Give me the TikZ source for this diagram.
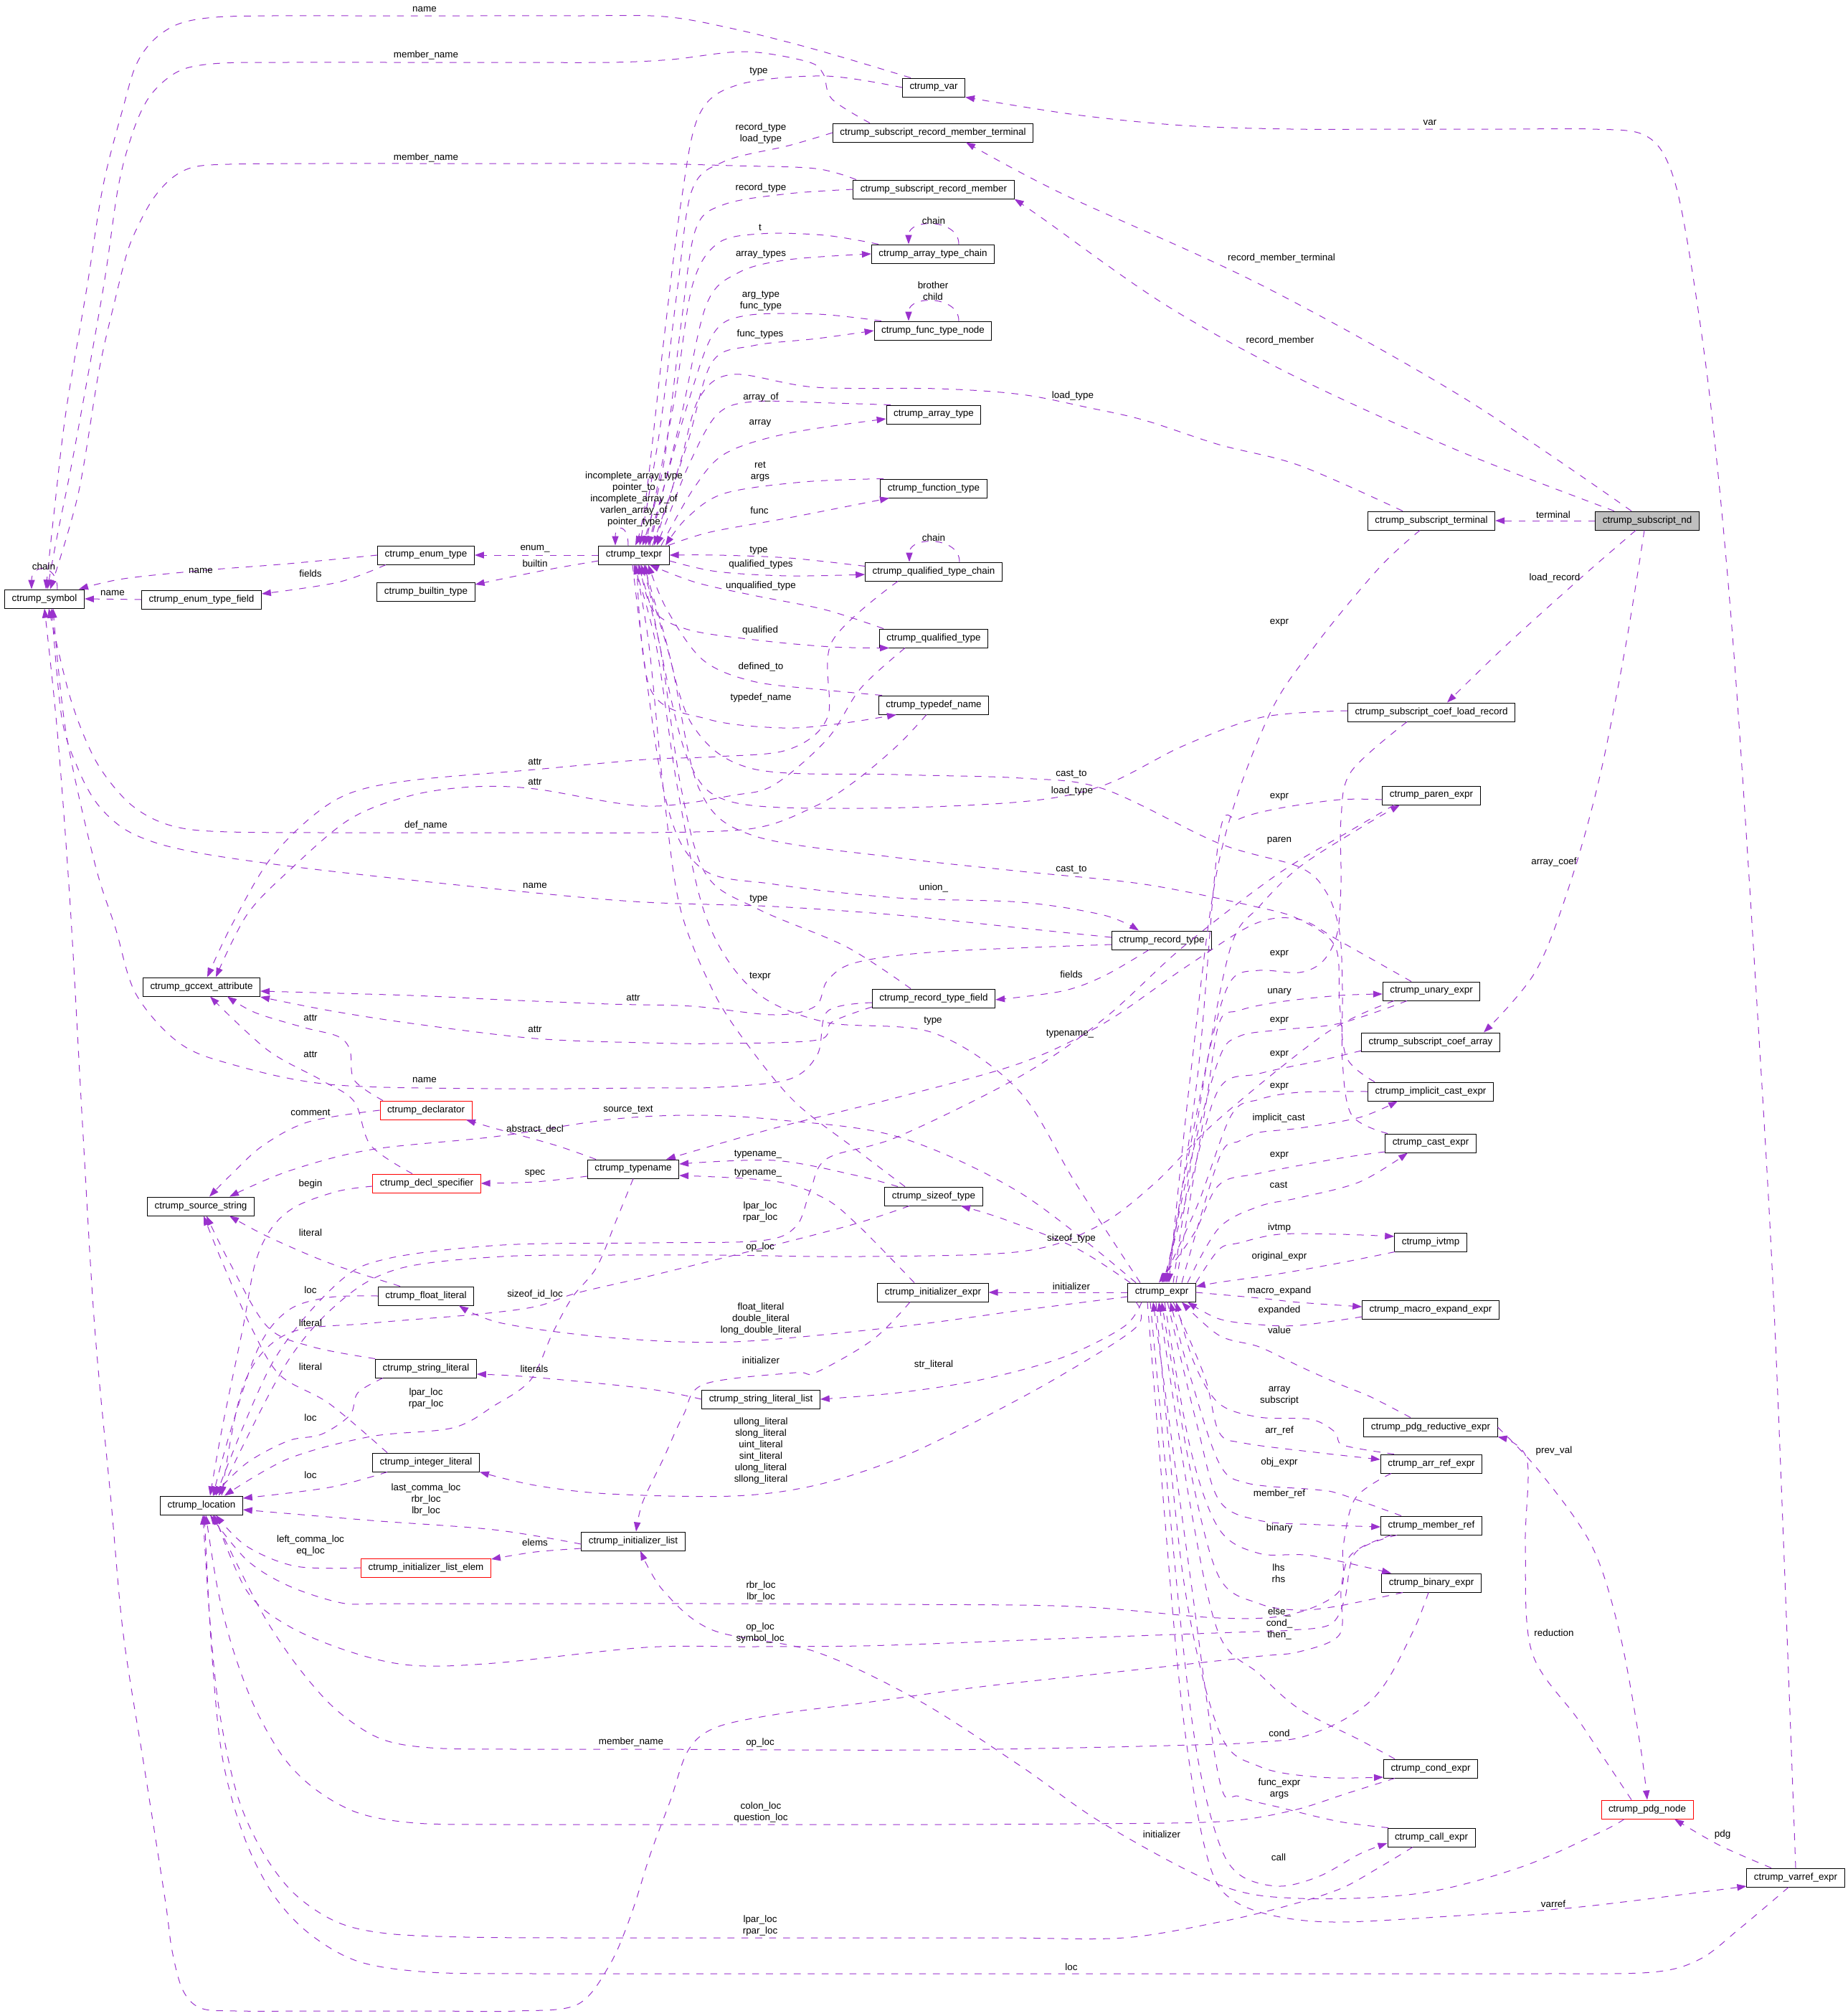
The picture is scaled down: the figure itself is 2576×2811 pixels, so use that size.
\documentclass[tikz,border=0pt]{standalone}
\usepackage{fontspec}
\setmainfont{Liberation Sans}
\usetikzlibrary{arrows.meta}
\definecolor{edgecol}{HTML}{9A32CD}
\definecolor{ndgray}{HTML}{BFBFBF}
\newcommand\dfs{\fontsize{6.7}{8}\selectfont}
\newcommand\edg[1]{\draw[e] plot[smooth,tension=0.55] coordinates {#1};}
\begin{document}
\begin{tikzpicture}[x=0.5pt,y=-0.5pt,
  cls/.style={draw=black,fill=white,line width=0.5pt,minimum height=13pt,inner xsep=5pt,inner ysep=0pt,font=\dfs},
  redcls/.style={cls,draw=red},
  graycls/.style={cls,fill=ndgray},
  e/.style={draw=edgecol,line width=0.5pt,dash pattern=on 4.8pt off 4.9pt,-{Triangle[length=6.5pt,width=4.6pt]},fill=none},
  lbl/.style={font=\dfs,inner sep=0pt,align=center}]
\fill[white] (0,0) rectangle (2576,2811);
\useasboundingbox (0,0) rectangle (2576,2811);

% ---------------- nodes
\node[cls] (sym) at (62,835) {ctrump\_symbol};
\node[cls] (etf) at (281,836) {ctrump\_enum\_type\_field};
\node[cls] (enm) at (594,774) {ctrump\_enum\_type};
\node[cls] (bt) at (594,825) {ctrump\_builtin\_type};
\node[cls] (tx) at (884,774) {ctrump\_texpr};
\node[cls] (var) at (1302,122) {ctrump\_var};
\node[cls] (srmt) at (1301,185) {ctrump\_subscript\_record\_member\_terminal};
\node[cls] (srm) at (1302,264) {ctrump\_subscript\_record\_member};
\node[cls] (atc) at (1301,354) {ctrump\_array\_type\_chain};
\node[cls] (ftn) at (1301,461) {ctrump\_func\_type\_node};
\node[cls] (arrt) at (1302,578) {ctrump\_array\_type};
\node[cls] (ft) at (1302,681) {ctrump\_function\_type};
\node[cls] (qtc) at (1302,797) {ctrump\_qualified\_type\_chain};
\node[cls] (qt) at (1302,890) {ctrump\_qualified\_type};
\node[cls] (tdn) at (1302,983) {ctrump\_typedef\_name};
\node[cls] (st) at (1996,726) {ctrump\_subscript\_terminal};
\node[graycls] (nd) at (2297,726) {ctrump\_subscript\_nd};
\node[cls] (sclr) at (1996,993) {ctrump\_subscript\_coef\_load\_record};
\node[cls] (pe) at (1996,1109) {ctrump\_paren\_expr};
\node[cls] (rt) at (1620,1311) {ctrump\_record\_type};
\node[cls] (ue) at (1996,1382) {ctrump\_unary\_expr};
\node[cls] (gcc) at (281,1376) {ctrump\_gccext\_attribute};
\node[cls] (rtf) at (1302,1392) {ctrump\_record\_type\_field};
\node[cls] (sca) at (1995,1453) {ctrump\_subscript\_coef\_array};
\node[cls] (ice) at (1995,1522) {ctrump\_implicit\_cast\_expr};
\node[redcls] (decl) at (594,1548) {ctrump\_declarator};
\node[cls] (ce) at (1995,1594) {ctrump\_cast\_expr};
\node[cls] (tn) at (883,1630) {ctrump\_typename};
\node[redcls] (ds) at (595,1650) {ctrump\_decl\_specifier};
\node[cls] (ss) at (280,1682) {ctrump\_source\_string};
\node[cls] (sz) at (1302,1668) {ctrump\_sizeof\_type};
\node[cls] (iv) at (1995,1732) {ctrump\_ivtmp};
\node[cls] (fl) at (594,1807) {ctrump\_float\_literal};
\node[cls] (ie) at (1301,1802) {ctrump\_initializer\_expr};
\node[cls] (ex) at (1620,1802) {ctrump\_expr};
\node[cls] (me) at (1995,1826) {ctrump\_macro\_expand\_expr};
\node[cls] (sl) at (594,1908) {ctrump\_string\_literal};
\node[cls] (sll) at (1061,1951) {ctrump\_string\_literal\_list};
\node[cls] (pre) at (1995,1990) {ctrump\_pdg\_reductive\_expr};
\node[cls] (are) at (1996,2041) {ctrump\_arr\_ref\_expr};
\node[cls] (il) at (594,2039) {ctrump\_integer\_literal};
\node[cls] (loc) at (281,2099) {ctrump\_location};
\node[cls] (mr) at (1996,2127) {ctrump\_member\_ref};
\node[cls] (ilist) at (883,2149) {ctrump\_initializer\_list};
\node[redcls] (ile) at (594,2186) {ctrump\_initializer\_list\_elem};
\node[cls] (be) at (1996,2207) {ctrump\_binary\_expr};
\node[cls] (cde) at (1995,2466) {ctrump\_cond\_expr};
\node[redcls] (pdg) at (2297,2523) {ctrump\_pdg\_node};
\node[cls] (call) at (1996,2562) {ctrump\_call\_expr};
\node[cls] (vr) at (2504,2618) {ctrump\_varref\_expr};

% ---------------- edges from subscript_nd / varref / pdg
\draw[e] (nd.west) -- (st.east);
\edg{([xshift=-11pt]nd.north) (2035,551) (1756,396) (1481,270) ([xshift=23pt]srmt.south)}
\edg{([xshift=-23pt]nd.north) (2035,629) (1812,528) (1625,425) (1453,304) (srm.south east)}
\edg{([xshift=-8pt]nd.south) (2203,807) (2100,900) ([xshift=11pt]sclr.north)}
\edg{([xshift=-2pt]nd.south) (2267,900) (2231,1082) (2190,1230) (2141,1355) ([xshift=37pt]sca.north)}
\edg{(vr.north) (2475,1850) (2450,1400) (2417,900) (2385,560) (2350,320) (2325,225) (2290,187) (2220,180) (2100,180) (1950,180) (1800,180) (1650,175) (1500,160) (var.south east)}
\edg{([xshift=-17pt]vr.north) (2398,2573) ([xshift=19pt]pdg.south)}
\edg{([xshift=-5pt]vr.south) (2426,2689) (2370,2732) (2303,2750) (2150,2752) (1950,2752) (1700,2752) (1450,2752) (1200,2752) (950,2752) (750,2752) (600,2750) (500,2735) (430,2695) (380,2640) (340,2560) (310,2450) (295,2300) ([xshift=2pt]loc.south)}
\edg{(pre.east) (2147,2052) (2220,2156) (2259,2279) (2287,2432) (pdg.north)}
\edg{([xshift=-11pt]pdg.north) (2203,2401) (2136,2303) (2127,2156) (2129,2034) (pre.south east)}
\edg{([xshift=-16pt]pdg.south) (2231,2555) (2119,2604) (1979,2640) (1812,2647) (1700,2628) (1539,2543) (1424,2463) (1281,2371) (1137,2303) (994,2273) (925,2218) ([xshift=5pt]ilist.south)}

% ---------------- texpr top bundle
\edg{(var.west) (1150,106) (1030,118) (975,160) (950,280) (925,480) (900,700) ([xshift=1pt]tx.north)}
\edg{(srmt.west) (1100,203) (1010,225) (965,265) (945,400) (920,600) ([xshift=4pt]tx.north)}
\edg{(srm.west) (1100,270) (1010,285) (970,320) (950,450) (925,650) ([xshift=6pt]tx.north)}
\edg{([xshift=-38pt]atc.north) (1150,328) (1060,326) (1000,340) (965,400) (940,560) ([xshift=8pt]tx.north)}
\edg{([xshift=11pt]tx.north) (950,580) (985,425) (1030,380) (1100,362) (atc.west)}
\edg{([xshift=-36pt]ftn.north) (1140,438) (1040,440) (995,465) (960,560) (920,700) ([xshift=10pt]tx.north)}
\edg{([xshift=13pt]tx.north) (958,620) (993,505) (1050,482) (1140,472) (ftn.west)}
\edg{([xshift=-20pt]st.north) (1812,649) (1700,620) (1596,586) (1516,568) (1424,550) (1309,542) (1137,540) (1022,522) (975,555) (950,640) (925,720) ([xshift=14pt]tx.north)}
\edg{([xshift=-30pt]arrt.north) (1160,562) (1050,560) (1000,578) (962,645) (932,720) ([xshift=16pt]tx.north)}
\edg{([xshift=19pt]tx.north) (968,680) (1012,632) (1100,604) ([yshift=-3pt]arrt.west)}
\edg{([xshift=-35pt]ft.north) (1120,672) (1010,688) (958,722) ([xshift=22pt]tx.north)}
\edg{([xshift=24pt]tx.north) (990,742) (1100,722) ([xshift=-31pt]ft.south)}
\draw[e] ([xshift=-4pt]tx.north) .. controls +(0,-30) and +(0,-30) .. ([xshift=-13pt]tx.north);

% ---------------- texpr side/bottom
\draw[e] (tx.west) -- (enm.east);
\edg{([yshift=-4pt]tx.west) (760,795) ([yshift=5pt]bt.east)}
\edg{([yshift=-3pt]qtc.north west) (1100,778) (1000,774) (tx.east)}
\edg{([yshift=-4pt]tx.east) (1000,797) (1100,803) ([yshift=-2pt]qtc.west)}
\draw[e] ([xshift=18pt]atc.north) .. controls +(0,-36) and +(0,-36) .. ([xshift=-17pt]atc.north);
\draw[e] ([xshift=18pt]ftn.north) .. controls +(0,-36) and +(0,-36) .. ([xshift=-17pt]ftn.north);
\draw[e] ([xshift=18pt]qtc.north) .. controls +(0,-36) and +(0,-36) .. ([xshift=-17pt]qtc.north);
\edg{([xshift=-35pt]qt.north) (1150,850) (1050,830) (970,812) ([xshift=11pt]tx.south)}
\edg{([xshift=4pt]tx.south) (910,850) (960,878) (1060,893) (1160,902) ([xshift=-31pt]qt.south)}
\edg{([xshift=-36pt]tdn.north) (1150,962) (1050,950) (980,920) (930,850) ([xshift=10pt]tx.south)}
\edg{([xshift=2pt]tx.south) (907,961) (988,1003) (1091,1015) (1171,1009) ([xshift=-26pt]tdn.south)}
\edg{([yshift=1pt]sclr.west) (1760,1000) (1650,1040) (1539,1095) (1424,1118) (1200,1127) (1020,1118) (960,1060) (920,900) ([xshift=8pt]tx.south)}
\edg{([xshift=-30pt]ce.north) (1885,1555) (1872,1480) (1872,1380) (1868,1300) (1850,1245) (1812,1209) (1700,1176) (1539,1100) (1424,1085) (1250,1080) (1050,1072) (965,1010) (925,880) ([xshift=7pt]tx.south)}
\edg{([xshift=-39pt]ice.north) (1878,1475) (1868,1400) (1862,1320) (1812,1282) (1750,1264) (1596,1233) (1424,1215) (1252,1196) (1050,1165) (975,1100) (935,920) ([xshift=5pt]tx.south)}
\edg{([xshift=-16pt]rtf.north) (1180,1320) (1058,1268) (985,1220) (950,1100) (920,900) ([xshift=3pt]tx.south)}
\edg{([xshift=-20pt]sz.north) (1194,1603) (1108,1536) (1039,1452) (993,1379) (948,1264) (925,1100) (905,900) ([xshift=1pt]tx.south)}
\edg{([xshift=-15pt]ex.north) (1500,1650) (1420,1520) (1301,1440) (1150,1425) (1050,1380) (985,1280) (945,1100) (915,900) (tx.south)}
\edg{([xshift=-1pt]tx.south) (925,1100) (976,1209) (1080,1233) (1252,1252) (1424,1258) (1539,1276) ([xshift=-16pt]rt.north)}

% ---------------- symbol
\edg{([xshift=-16pt]var.north) (1137,69) (1022,40) (925,23) (800,22) (650,22) (500,22) (380,22) (300,24) (250,33) (215,55) (190,90) (172,149) (144,258) (121,402) (92,574) (75,718) ([xshift=1pt]sym.north)}
\edg{([xshift=-44pt]srmt.north) (1160,138) (1148,103) (1126,86) (1039,72) (936,83) (850,87) (700,87) (550,87) (400,87) (310,88) (260,95) (230,112) (205,140) (185,185) (165,260) (144,402) (103,631) (80,746) ([xshift=2pt]sym.north)}
\edg{([xshift=-54pt]srm.north) (1137,235) (1022,231) (900,228) (750,228) (600,228) (450,228) (320,229) (270,233) (240,248) (215,275) (195,310) (178,350) (160,420) (138,517) (109,689) ([xshift=4pt]sym.north)}
\edg{(enm.west) (402,786) (287,795) (172,807) ([xshift=24pt]sym.north)}
\draw[e] (etf.west) -- (sym.east);
\edg{([xshift=-28pt]enm.south) (471,812) ([yshift=4pt]etf.east)}
\draw[e] ([xshift=9pt]sym.north) .. controls +(0,-36) and +(0,-36) .. ([xshift=-9pt]sym.north);
\edg{([xshift=-5pt]tdn.south) (1252,1039) (1194,1088) (1137,1124) (1051,1155) (900,1161) (750,1161) (600,1161) (450,1161) (320,1160) (255,1155) (210,1140) (172,1112) (132,1058) (98,973) ([xshift=3pt]sym.south)}
\edg{([yshift=2pt]rt.west) (1424,1294) (1252,1276) (1080,1264) (900,1258) (746,1245) (517,1221) (390,1206) (287,1191) (220,1176) (172,1155) (135,1120) (108,1070) (86,1000) ([xshift=5pt]sym.south)}
\edg{([yshift=-3pt]rtf.west) (1154,1410) (1140,1470) (1100,1505) (1000,1516) (900,1517) (689,1518) (459,1512) (316,1482) (247,1452) (189,1385) (161,1294) (132,1203) (92,1021) ([xshift=6pt]sym.south)}
\edg{([xshift=-28pt]mr.south) (1901,2156) (1879,2175) (1870,2218) (1868,2279) (1812,2303) (1750,2310) (1550,2332) (1367,2352) (1200,2375) (1091,2389) (1000,2408) (960,2440) (935,2510) (907,2585) (880,2670) (850,2740) (805,2795) (720,2804) (600,2804) (450,2804) (330,2804) (280,2800) (255,2775) (240,2720) (230,2647) (201,2463) (172,2279) (155,2095) (132,1850) (115,1567) (98,1264) (80,1021) (sym.south)}

% ---------------- gccext attribute
\edg{([xshift=-25pt]qtc.south) (1160,895) (1154,1000) (1100,1045) (1000,1055) (900,1059) (746,1073) (574,1088) (488,1106) (431,1142) (373,1203) (321,1294) ([xshift=4pt]gcc.north)}
\edg{([xshift=-20pt]qt.south) (1200,960) (1154,1030) (1080,1094) (1022,1109) (900,1124) (746,1100) (660,1097) (574,1109) (488,1142) (402,1215) (344,1276) ([xshift=10pt]gcc.north)}
\edg{([yshift=-3pt]rt.west) (1309,1327) (1194,1342) (1154,1367) (1137,1403) (1080,1415) (965,1403) (850,1400) (700,1394) (574,1388) ([yshift=-3pt]gcc.east)}
\edg{([yshift=-6pt]rtf.west) (1160,1425) (1140,1450) (1000,1455) (900,1454) (746,1448) (574,1427) (459,1409) ([yshift=-7pt]gcc.east)}
\edg{([xshift=-30pt]decl.north) (494,1506) (488,1464) (471,1445) (425,1433) (356,1412) ([xshift=18pt]gcc.south)}
\edg{([xshift=-10pt]ds.north) (517,1597) (494,1536) (448,1506) (373,1464) ([xshift=6pt]gcc.south)}

% ---------------- source string / declarators
\edg{([xshift=-18pt]ex.north) (1424,1664) (1252,1585) (1080,1561) (965,1555) (850,1561) (689,1585) (517,1603) (402,1633) ([xshift=20pt]ss.north)}
\edg{(decl.west) (431,1564) (367,1597) (321,1639) ([xshift=6pt]ss.north)}
\edg{([xshift=-26pt]tn.north) (775,1597) (689,1573) ([xshift=28pt]decl.south)}
\edg{([yshift=-5pt]tn.west) (746,1648) (ds.east)}
\edg{([xshift=-18pt]fl.north) (459,1761) (373,1724) ([xshift=20pt]ss.south)}
\edg{(sl.north west) (436,1878) (373,1850) (320,1760) ([xshift=4pt]ss.south)}
\edg{([xshift=-27pt]il.north) (459,1957) (390,1917) (350,1850) (310,1760) ([xshift=2pt]ss.south)}

% ---------------- location
\edg{([yshift=-2pt]ds.west) (471,1661) (413,1682) (379,1712) (356,1761) (339,1850) (310,1990) ([xshift=6pt]loc.north)}
\edg{([xshift=-26pt]pe.south) (1880,1160) (1780,1220) (1650,1320) (1540,1420) (1424,1500) (1252,1585) (1154,1615) (1130,1660) (1110,1710) (1060,1730) (900,1733) (700,1736) (540,1755) (470,1790) (380,1900) ([xshift=10pt]loc.north)}
\edg{([xshift=-26pt]ue.south) (1850,1440) (1700,1560) (1610,1650) (1530,1710) (1424,1745) (1200,1752) (1000,1750) (850,1750) (700,1752) (560,1768) (480,1810) (400,1900) ([xshift=12pt]loc.north)}
\edg{([xshift=-17pt]sz.south) (1194,1706) (1080,1736) (907,1779) (804,1803) (746,1822) (660,1833) (517,1845) (400,1860) (340,1930) ([xshift=14pt]loc.north)}
\edg{(fl.west) (459,1809) (402,1827) (360,1880) (320,2000) ([xshift=8pt]loc.north)}
\edg{([xshift=-30pt]sl.south) (499,1942) (488,1973) (448,2000) (402,2009) (344,2040) ([xshift=8pt]loc.north)}
\edg{(tn.south) (860,1700) (832,1767) (798,1809) (770,1860) (740,1924) (689,1960) (631,1991) (517,2003) (402,2034) ([xshift=16pt]loc.north)}
\edg{([xshift=-27pt]il.south) (459,2074) ([yshift=5pt]loc.east)}
\edg{([yshift=-2pt]ilist.west) (689,2133) (517,2120) ([yshift=-3pt]loc.east)}
\edg{(ile.west) (413,2184) (344,2156) ([xshift=10pt]loc.south)}
\edg{([yshift=-5pt]ilist.west) (746,2164) ([yshift=6pt]ile.east)}
\edg{([xshift=-28pt]are.south) (1890,2089) (1873,2156) (1868,2218) (1800,2251) (1700,2256) (1500,2240) (1250,2237) (1000,2236) (800,2236) (650,2236) (530,2236) (476,2235) (402,2211) (344,2175) ([xshift=6pt]loc.south)}
\edg{([xshift=-24pt]mr.south) (1890,2165) (1875,2230) (1855,2265) (1800,2273) (1750,2275) (1500,2284) (1350,2290) (1200,2295) (1050,2296) (900,2297) (689,2319) (574,2322) (488,2303) (402,2267) (344,2218) ([xshift=9pt]loc.south)}
\edg{([xshift=-2pt]be.south) (1974,2267) (1940,2334) (1912,2371) (1868,2401) (1812,2423) (1756,2429) (1700,2432) (1500,2437) (1300,2440) (1100,2440) (900,2439) (720,2439) (600,2437) (530,2424) (470,2385) (420,2330) (375,2265) (340,2200) ([xshift=8pt]loc.south)}
\edg{([xshift=-25pt]cde.south) (1880,2500) (1800,2525) (1700,2540) (1500,2543) (1300,2544) (1100,2544) (900,2544) (700,2544) (580,2542) (500,2528) (440,2495) (395,2450) (355,2380) (325,2300) (304,2218) ([xshift=3pt]loc.south)}
\edg{([xshift=-13pt]call.south) (1923,2604) (1868,2634) (1789,2659) (1700,2680) (1567,2702) (1400,2702) (1200,2702) (1000,2702) (800,2702) (650,2701) (540,2696) (470,2680) (410,2640) (365,2580) (330,2500) (305,2380) (292,2250) ([xshift=1pt]loc.south)}

% ---------------- expr hub
\edg{([xshift=-8pt]st.south) (1923,792) (1834,900) (1767,1003) (1700,1200) (1660,1500) ([xshift=5pt]ex.north)}
\edg{([yshift=-3pt]pe.west) (1868,1115) (1784,1127) (1728,1142) (1700,1167) (1670,1500) ([xshift=4pt]ex.north)}
\edg{([xshift=8pt]ex.north) (1680,1500) (1717,1318) (1756,1264) (1812,1209) (1896,1155) ([xshift=-22pt]pe.south)}
\edg{([xshift=-17pt]sclr.south) (1884,1076) (1870,1142) (1870,1230) (1865,1300) (1845,1340) (1812,1356) (1756,1353) (1717,1367) (1690,1450) (1650,1650) ([xshift=3pt]ex.north)}
\edg{([xshift=10pt]ex.north) (1680,1550) (1700,1427) (1728,1409) (1784,1397) (1868,1388) ([yshift=-2pt]ue.west)}
\edg{([xshift=-17pt]ue.south) (1868,1427) (1784,1436) (1728,1445) (1700,1476) (1660,1620) ([xshift=2pt]ex.north)}
\edg{([yshift=-6pt]sca.west) (1840,1479) (1756,1497) (1700,1518) (1660,1650) ([xshift=1pt]ex.north)}
\edg{(ice.west) (1812,1523) (1756,1533) (1717,1555) (1670,1680) (ex.north)}
\edg{([xshift=14pt]ex.north) (1700,1615) (1728,1591) (1756,1579) (1812,1573) (1896,1558) ([xshift=-23pt]ice.south)}
\edg{([yshift=-6pt]ce.west) (1868,1615) (1756,1636) (1700,1652) (1665,1720) ([xshift=-2pt]ex.north)}
\edg{([xshift=18pt]ex.north) (1700,1712) (1756,1682) (1812,1670) (1896,1648) ([xshift=-16pt]ce.south)}
\edg{(ex.north east) (1700,1742) (1728,1733) (1784,1721) (1868,1721) ([yshift=4pt]iv.west)}
\edg{([xshift=-25pt]iv.south) (1868,1761) (1784,1776) (1700,1788) ([yshift=4pt]ex.east)}
\edg{(ex.east) (1756,1810) (1812,1816) ([yshift=2pt]me.west)}
\edg{([yshift=-5pt]me.west) (1812,1848) (1756,1847) (1700,1839) ([xshift=18pt]ex.south)}
\edg{([xshift=-14pt]pre.north) (1912,1948) (1868,1930) (1812,1905) (1756,1878) (1700,1862) ([xshift=14pt]ex.south)}
\edg{([xshift=-26pt]are.north) (1873,2015) (1862,1997) (1828,1979) (1756,1976) (1700,1957) (1665,1900) ([xshift=10pt]ex.south)}
\edg{([xshift=8pt]ex.south) (1680,1920) (1700,1997) (1734,2012) (1834,2025) ([yshift=3pt]are.west)}
\edg{([xshift=-21pt]mr.north) (1868,2083) (1834,2077) (1739,2068) (1700,2040) (1660,1920) ([xshift=6pt]ex.south)}
\edg{([xshift=4pt]ex.south) (1670,1990) (1700,2092) (1756,2120) (1840,2126) ([yshift=-1pt]mr.west)}
\edg{([xshift=2pt]ex.south) (1660,2020) (1700,2132) (1756,2166) (1828,2169) ([xshift=-28pt]be.north)}
\edg{([xshift=-20pt]be.south) (1868,2239) (1812,2245) (1756,2236) (1700,2199) (1660,2050) (ex.south)}
\edg{([xshift=-25pt]cde.north) (1896,2426) (1812,2383) (1756,2334) (1700,2279) (1660,2100) ([xshift=-2pt]ex.south)}
\edg{([xshift=-4pt]ex.south) (1650,2200) (1700,2414) (1756,2463) (1840,2478) ([yshift=-6pt]cde.west)}
\edg{([xshift=-30pt]call.north) (1868,2540) (1784,2520) (1728,2505) (1700,2480) (1660,2200) ([xshift=-6pt]ex.south)}
\edg{([xshift=-8pt]ex.south) (1645,2250) (1670,2450) (1700,2570) (1730,2615) (1784,2630) (1840,2616) (1896,2585) ([yshift=-4pt]call.west)}
\edg{([xshift=-10pt]ex.south) (1640,2300) (1665,2500) (1690,2610) (1720,2650) (1780,2672) (1868,2680) (2035,2671) (2203,2659) ([yshift=-6pt]vr.west)}
\draw[e] (ex.west) -- (ie.east);
\edg{([xshift=-22pt]ex.north) (1500,1740) (1400,1700) ([xshift=19pt]sz.south)}
\edg{([yshift=-3pt]ex.west) (1424,1827) (1252,1850) (1022,1871) (850,1865) (700,1845) ([xshift=23pt]fl.south)}
\edg{([xshift=-18pt]ex.south) (1585,1850) (1481,1917) (1367,1979) (1252,2034) (1137,2071) (1022,2086) (850,2083) (746,2071) (il.south east)}
\edg{([xshift=-14pt]ex.south) (1567,1850) (1481,1893) (1367,1924) (1252,1942) (sll.east)}
\edg{(sll.west) (900,1936) (740,1920) ([yshift=-4pt]sl.east)}
\edg{([xshift=-16pt]ie.south) (1217,1868) (1137,1914) (1108,1914) (982,1930) (953,1973) (925,2034) (896,2095) ([xshift=2pt]ilist.north)}
\edg{([xshift=-25pt]sz.north) (1194,1639) (1080,1618) ([yshift=3.5pt]tn.east)}
\edg{([xshift=-13pt]ie.north) (1194,1706) (1148,1670) (1080,1647) ([yshift=-4.5pt]tn.east)}
\edg{([xshift=-14pt]ue.north) (1868,1312) (1812,1282) (1750,1288) (1654,1348) (1539,1427) (1424,1482) (1252,1530) (1080,1573) ([xshift=23pt]tn.north)}
\edg{([xshift=-9pt]rt.south) (1539,1361) (1481,1382) ([yshift=-1pt]rtf.east)}

% ---------------- labels
\node[lbl] at (592,13) {name};
\node[lbl] at (594,77) {member\_name};
\node[lbl] at (1058,100) {type};
\node[lbl] at (1061,186) {record\_type\\load\_type};
\node[lbl] at (1994,171) {var};
\node[lbl] at (594,220) {member\_name};
\node[lbl] at (1061,262) {record\_type};
\node[lbl] at (1787,360) {record\_member\_terminal};
\node[lbl] at (1302,308) {chain};
\node[lbl] at (1060,317) {t};
\node[lbl] at (1061,355) {array\_types};
\node[lbl] at (1301,406) {brother\\child};
\node[lbl] at (1061,420) {arg\_type\\func\_type};
\node[lbl] at (1060,466) {func\_types};
\node[lbl] at (1496,552) {load\_type};
\node[lbl] at (1061,554) {array\_of};
\node[lbl] at (1785,475) {record\_member};
\node[lbl] at (1060,590) {array};
\node[lbl] at (1060,658) {ret\\args};
\node[lbl] at (1059,712) {func};
\node[lbl] at (884,696) {incomplete\_array\_type\\pointer\_to\\incomplete\_array\_of\\varlen\_array\_of\\pointer\_type};
\node[lbl] at (2166,718) {terminal};
\node[lbl] at (746,765) {enum\_};
\node[lbl] at (746,786) {builtin};
\node[lbl] at (1058,768) {type};
\node[lbl] at (1061,787) {qualified\_types};
\node[lbl] at (1302,750) {chain};
\node[lbl] at (280,796) {name};
\node[lbl] at (433,800) {fields};
\node[lbl] at (157,827) {name};
\node[lbl] at (61,790) {chain};
\node[lbl] at (1061,817) {unqualified\_type};
\node[lbl] at (2168,806) {load\_record};
\node[lbl] at (1060,879) {qualified};
\node[lbl] at (1784,868) {expr};
\node[lbl] at (1061,930) {defined\_to};
\node[lbl] at (1061,973) {typedef\_name};
\node[lbl] at (746,1062) {attr};
\node[lbl] at (1494,1079) {cast\_to};
\node[lbl] at (1495,1103) {load\_type};
\node[lbl] at (746,1090) {attr};
\node[lbl] at (1784,1111) {expr};
\node[lbl] at (594,1151) {def\_name};
\node[lbl] at (1784,1172) {paren};
\node[lbl] at (1302,1238) {union\_};
\node[lbl] at (746,1235) {name};
\node[lbl] at (1494,1212) {cast\_to};
\node[lbl] at (2167,1202) {array\_coef};
\node[lbl] at (1058,1254) {type};
\node[lbl] at (1784,1330) {expr};
\node[lbl] at (1494,1359) {fields};
\node[lbl] at (883,1391) {attr};
\node[lbl] at (1784,1383) {unary};
\node[lbl] at (433,1419) {attr};
\node[lbl] at (1301,1424) {type};
\node[lbl] at (1784,1423) {expr};
\node[lbl] at (1492,1442) {typename\_};
\node[lbl] at (1060,1362) {texpr};
\node[lbl] at (1784,1470) {expr};
\node[lbl] at (433,1470) {attr};
\node[lbl] at (746,1435) {attr};
\node[lbl] at (592,1506) {name};
\node[lbl] at (1784,1515) {expr};
\node[lbl] at (876,1547) {source\_text};
\node[lbl] at (433,1551) {comment};
\node[lbl] at (1783,1559) {implicit\_cast};
\node[lbl] at (746,1575) {abstract\_decl};
\node[lbl] at (1784,1611) {expr};
\node[lbl] at (1057,1610) {typename\_};
\node[lbl] at (1783,1652) {cast};
\node[lbl] at (746,1636) {spec};
\node[lbl] at (1057,1636) {typename\_};
\node[lbl] at (433,1651) {begin};
\node[lbl] at (1060,1690) {lpar\_loc\\rpar\_loc};
\node[lbl] at (433,1719) {literal};
\node[lbl] at (1784,1712) {ivtmp};
\node[lbl] at (1494,1727) {sizeof\_type};
\node[lbl] at (1060,1739) {op\_loc};
\node[lbl] at (1784,1752) {original\_expr};
\node[lbl] at (433,1799) {loc};
\node[lbl] at (746,1805) {sizeof\_id\_loc};
\node[lbl] at (1494,1794) {initializer};
\node[lbl] at (1784,1800) {macro\_expand};
\node[lbl] at (1061,1839) {float\_literal\\double\_literal\\long\_double\_literal};
\node[lbl] at (1784,1827) {expanded};
\node[lbl] at (433,1845) {literal};
\node[lbl] at (1784,1855) {value};
\node[lbl] at (1061,1897) {initializer};
\node[lbl] at (1302,1903) {str\_literal};
\node[lbl] at (745,1909) {literals};
\node[lbl] at (433,1906) {literal};
\node[lbl] at (1784,1946) {array\\subscript};
\node[lbl] at (594,1950) {lpar\_loc\\rpar\_loc};
\node[lbl] at (1061,2023) {ullong\_literal\\slong\_literal\\uint\_literal\\sint\_literal\\ulong\_literal\\sllong\_literal};
\node[lbl] at (1784,1995) {arr\_ref};
\node[lbl] at (433,1977) {loc};
\node[lbl] at (2167,2023) {prev\_val};
\node[lbl] at (1784,2039) {obj\_expr};
\node[lbl] at (433,2057) {loc};
\node[lbl] at (594,2091) {last\_comma\_loc\\rbr\_loc\\lbr\_loc};
\node[lbl] at (1784,2083) {member\_ref};
\node[lbl] at (1784,2131) {binary};
\node[lbl] at (433,2155) {left\_comma\_loc\\eq\_loc};
\node[lbl] at (746,2151) {elems};
\node[lbl] at (1783,2194) {lhs\\rhs};
\node[lbl] at (1061,2219) {rbr\_loc\\lbr\_loc};
\node[lbl] at (1784,2264) {else\_\\cond\_\\then\_};
\node[lbl] at (2167,2277) {reduction};
\node[lbl] at (1060,2277) {op\_loc\\symbol\_loc};
\node[lbl] at (880,2429) {member\_name};
\node[lbl] at (1060,2430) {op\_loc};
\node[lbl] at (1784,2417) {cond};
\node[lbl] at (1784,2494) {func\_expr\\args};
\node[lbl] at (1061,2527) {colon\_loc\\question\_loc};
\node[lbl] at (1620,2558) {initializer};
\node[lbl] at (2402,2558) {pdg};
\node[lbl] at (1783,2590) {call};
\node[lbl] at (2166,2655) {varref};
\node[lbl] at (1060,2685) {lpar\_loc\\rpar\_loc};
\node[lbl] at (1494,2743) {loc};
\end{tikzpicture}
\end{document}
